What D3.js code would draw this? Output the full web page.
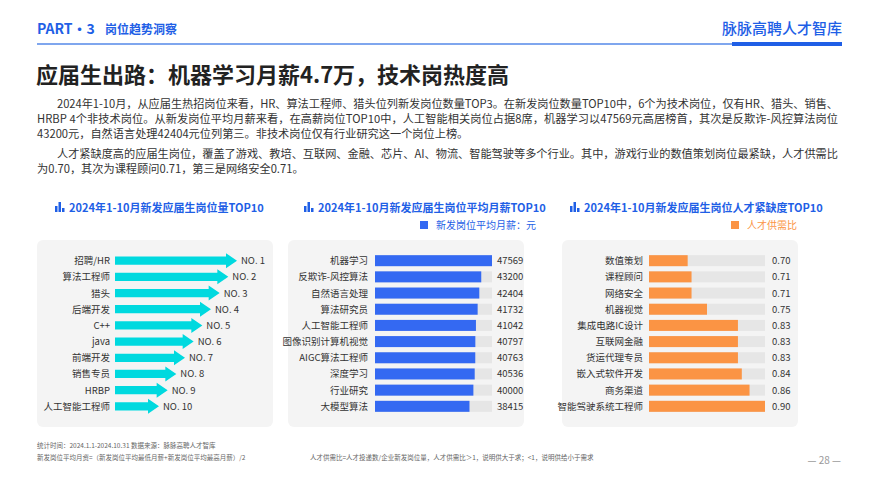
<!DOCTYPE html><html><head><meta charset="utf-8"><script src="https://cdn.jsdelivr.net/npm/d3@7"></script>
<style>body{margin:0;background:#fff}svg{font-family:"Noto Sans CJK SC","Noto Sans",sans-serif}</style></head><body><svg id="c" width="872" height="491"></svg>
<script>
const countJobs=["招聘/HR","算法工程师","猎头","后端开发","C++","java","前端开发","销售专员","HRBP","人工智能工程师"];
const countRanks=[1,2,3,4,5,6,7,8,9,10];
const salaryJobs=["机器学习","反欺诈-风控算法","自然语言处理","算法研究员","人工智能工程师","图像识别计算机视觉","AIGC算法工程师","深度学习","行业研究","大模型算法"];
const salaryValues=[47569,43200,42404,41732,41042,40797,40763,40536,40000,38415];
const ratioJobs=["数值策划","课程顾问","网络安全","机器视觉","集成电路IC设计","互联网金融","货运代理专员","嵌入式软件开发","商务渠道","智能驾驶系统工程师"];
const ratioValues=[0.70,0.71,0.71,0.75,0.83,0.83,0.83,0.84,0.86,0.90];
const ratioLabels=["0.70","0.71","0.71","0.75","0.83","0.83","0.83","0.84","0.86","0.90"];

const svg=d3.select("#c");
const blue="#1f5fe6";
svg.append("text").attr("x",37).attr("y",34).attr("fill",blue).attr("font-size",14).attr("font-weight",700).text("PART·3");
svg.append("text").attr("x",105).attr("y",34).attr("fill",blue).attr("font-size",12).attr("font-weight",700).text("岗位趋势洞察");
svg.append("text").attr("x",842).attr("y",34).attr("text-anchor","end").attr("fill",blue).attr("font-size",15).attr("font-weight",500).text("脉脉高聘人才智库");
svg.append("rect").attr("x",37).attr("y",43).attr("width",805).attr("height",2).attr("fill","#7fa6ee");
svg.append("rect").attr("x",732).attr("y",42).attr("width",110).attr("height",4).attr("fill",blue);
svg.append("text").attr("x",36).attr("y",83).attr("font-size",22).attr("font-weight",700).attr("fill","#222").text("应届生出路：机器学习月薪4.7万，技术岗热度高");
const para=[[57,"2024年1-10月，从应届生热招岗位来看，HR、算法工程师、猎头位列新发岗位数量TOP3。在新发岗位数量TOP10中，6个为技术岗位，仅有HR、猎头、销售、"],
[37,"HRBP 4个非技术岗位。从新发岗位平均月薪来看，在高薪岗位TOP10中，人工智能相关岗位占据8席，机器学习以47569元高居榜首，其次是反欺诈-风控算法岗位"],
[37,"43200元，自然语言处理42404元位列第三。非技术岗位仅有行业研究这一个岗位上榜。"],
[57,"人才紧缺度高的应届生岗位，覆盖了游戏、教培、互联网、金融、芯片、AI、物流、智能驾驶等多个行业。其中，游戏行业的数值策划岗位最紧缺，人才供需比"],
[37,"为0.70，其次为课程顾问0.71，第三是网络安全0.71。"]];
const py=[108,123,138,158,173];
para.forEach((p,i)=>svg.append("text").attr("x",p[0]).attr("y",py[i]).attr("font-size",11.2).attr("fill","#333").attr("textLength",i==2||i==4?null:(p[0]==57?781:801)).text(p[1]));

function title(x,t){const g=svg.append("g");
 [6,10,4].forEach((h,i)=>g.append("rect").attr("x",x+i*3.5).attr("y",212-h).attr("width",2.5).attr("height",h).attr("fill",blue));
 g.append("text").attr("x",x+14).attr("y",212).attr("font-size",11).attr("font-weight",600).attr("fill",blue).text(t);}
title(55,"2024年1-10月新发应届生岗位量TOP10");
title(304,"2024年1-10月新发应届生岗位平均月薪TOP10");
title(570,"2024年1-10月新发应届生岗位人才紧缺度TOP10");
svg.append("rect").attr("x",420).attr("y",221).attr("width",8).attr("height",8).attr("fill","#3469f2");
svg.append("text").attr("x",436).attr("y",229).attr("font-size",10).attr("fill",blue).text("新发岗位平均月薪：元");
svg.append("rect").attr("x",731).attr("y",221).attr("width",8).attr("height",8).attr("fill","#fb9444");
svg.append("text").attr("x",747).attr("y",229).attr("font-size",10).attr("fill","#fb9444").text("人才供需比");
[[37,236],[288,236],[562,236]].forEach(b=>svg.append("rect").attr("x",b[0]).attr("y",240).attr("width",b[1]).attr("height",187).attr("rx",6).attr("fill","#f4f4f4"));

const y=d3.scaleBand().domain(d3.range(10)).range([250,417]).padding(0.32);
const lab=(x,arr)=>svg.append("g").selectAll("text").data(arr).join("text").attr("x",x).attr("y",(d,i)=>y(i)+y.bandwidth()/2+3.5).attr("text-anchor","end").attr("font-size",9.5).attr("fill","#333").text(d=>d);
lab(110,countJobs);
const len=d3.scaleLinear().domain([1,10]).range([122,44]);
svg.append("g").selectAll("path").data(countRanks).join("path").attr("fill","#00d9df").attr("d",(r,i)=>{const x0=115,x1=x0+len(r),yc=y(i)+y.bandwidth()/2,h=y.bandwidth()/2,ah=11;
 return `M${x0},${yc-h*0.75}L${x1-ah},${yc-h*0.75}L${x1-ah},${yc-h-2}L${x1},${yc}L${x1-ah},${yc+h+2}L${x1-ah},${yc+h*0.75}L${x0},${yc+h*0.75}Z`;});
svg.append("g").selectAll("text").data(countRanks).join("text").attr("x",(r)=>115+len(r)+4).attr("y",(d,i)=>y(i)+y.bandwidth()/2+3.5).attr("font-size",9.5).attr("fill","#333").text(r=>"NO. "+r);
lab(368,salaryJobs);
const xs=d3.scaleLinear().domain([0,47569]).range([0,117]);
svg.append("g").selectAll("rect").data(salaryValues).join("rect").attr("x",375).attr("y",(d,i)=>y(i)).attr("width",117).attr("height",y.bandwidth()).attr("fill","#e6e6e6");
svg.append("g").selectAll("rect").data(salaryValues).join("rect").attr("x",375).attr("y",(d,i)=>y(i)).attr("width",d=>xs(d)).attr("height",y.bandwidth()).attr("fill","#3469f2");
svg.append("g").selectAll("text").data(salaryValues).join("text").attr("x",497).attr("y",(d,i)=>y(i)+y.bandwidth()/2+3.5).attr("font-size",9.5).attr("fill","#333").text(d=>d);
lab(643,ratioJobs);
const xr=d3.scaleLinear().domain([0.6,0.9]).range([0,116]);
svg.append("g").selectAll("rect").data(ratioValues).join("rect").attr("x",649).attr("y",(d,i)=>y(i)).attr("width",116).attr("height",y.bandwidth()).attr("fill","#e6e6e6");
svg.append("g").selectAll("rect").data(ratioValues).join("rect").attr("x",649).attr("y",(d,i)=>y(i)).attr("width",d=>xr(d)).attr("height",y.bandwidth()).attr("fill","#fb9444");
svg.append("g").selectAll("text").data(ratioLabels).join("text").attr("x",772).attr("y",(d,i)=>y(i)+y.bandwidth()/2+3.5).attr("font-size",9.5).attr("fill","#333").text(d=>d);
const f=(x,yy,t)=>svg.append("text").attr("x",x).attr("y",yy).attr("font-size",6.5).attr("fill","#666").text(t);
f(37,448,"统计时间：2024.1.1-2024.10.31    数据来源：脉脉高聘人才智库");
f(37,460,"新发岗位平均月资=（新发岗位平均最低月薪+新发岗位平均最高月薪）/2");
f(310,460,"人才供需比=人才投递数/企业新发岗位量，人才供需比＞1，说明供大于求；<1，说明供给小于需求");
svg.append("text").attr("x",841).attr("y",464).attr("text-anchor","end").attr("font-size",10).attr("fill","#999").text("— 28 —");
</script></body></html>
